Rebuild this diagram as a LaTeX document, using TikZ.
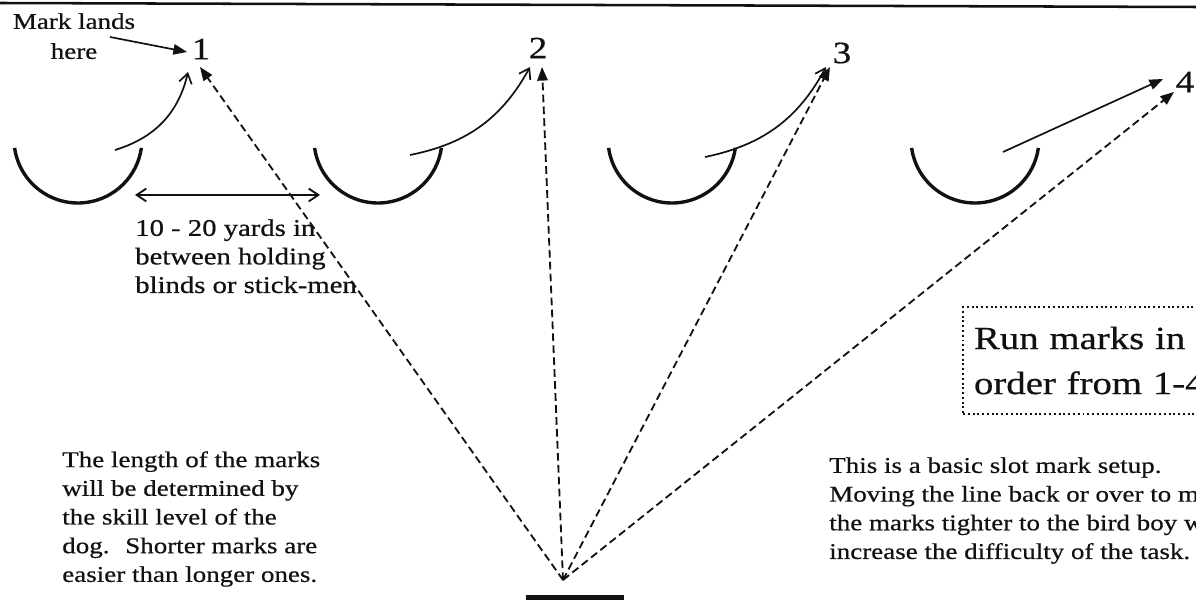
\documentclass[tikz,border=0pt]{standalone}
\usepackage{fontspec}
\setmainfont{Liberation Serif}[FakeStretch=1.2, FakeBold=0.6]
\usetikzlibrary{arrows.meta, positioning}
\definecolor{inkBlack}{HTML}{111111}
\tikzset{
  arrowD/.style={-{Triangle[length=3.4mm, width=2.6mm]}, inkBlack, line width=1.3pt,
                 dash pattern=on 5.5pt off 3pt},
  arrowS/.style={-{Straight Barb[length=2.4mm, width=3.2mm]}, inkBlack, line width=1.2pt},
  arrowF/.style={-{Triangle[length=3.4mm, width=2.6mm]}, inkBlack, line width=1.2pt},
  arrowW/.style={{Straight Barb[length=2.4mm, width=3.2mm]}-{Straight Barb[length=2.4mm, width=3.2mm]},
                 inkBlack, line width=1.3pt},
  blind/.style={inkBlack, line width=2.4pt},
  note/.style={inner sep=0pt, align=left, anchor=north west, text=inkBlack,
               font=\fontsize{16}{20.4}\selectfont},
  marknum/.style={inner sep=0pt, text=inkBlack, font=\fontsize{22}{26}\selectfont},
  runbox/.style={draw=inkBlack, dotted, line width=1.4pt, anchor=north west, align=left,
                 text width=6.25cm, inner xsep=0.275cm, minimum height=2.675cm,
                 text=inkBlack, font=\fontsize{23}{32}\selectfont},
}

\begin{document}
\begin{tikzpicture}[x=0.025cm, y=0.025cm]
  \useasboundingbox (0,0) rectangle (1196,599);
  \clip (0,0) rectangle (1196,599);
  \draw[inkBlack, line width=1.8pt] (0,596) -- (1196,592);

  % holding blinds
  \foreach \bx/\n in {78/1, 378/2, 672/3, 975/4}{
    \coordinate (b\n) at (\bx,460);
    \draw[blind] (b\n) ++(188:64) arc[start angle=188, end angle=352, radius=64];
  }

  % marks
  \node[marknum] (num1) at (201,550) {1};
  \node[marknum] (num2) at (538,551) {2};
  \node[marknum] (num3) at (842,546) {3};
  \node[marknum] (num4) at (1185,517) {4};
  \coordinate (land1) at (200,532);
  \coordinate (land2) at (542,532);
  \coordinate (land3) at (830,532);
  \coordinate (land4) at (1174,507);

  % throws from the blinds
  \coordinate (out1) at (115,449);  \coordinate (throw1) at (188,527);
  \coordinate (out2) at (410,444);  \coordinate (throw2) at (530,532);
  \coordinate (out3) at (705,442);  \coordinate (throw3) at (826,532);
  \coordinate (out4) at (1003,447); \coordinate (throw4) at (1163,520);
  \draw[arrowS] (out1) to[bend right=30] (throw1);
  \draw[arrowS] (out2) to[bend right=25] (throw2);
  \draw[arrowS] (out3) to[bend right=25] (throw3);
  \draw[arrowF] (out4) -- (throw4);

  % the line
  \node[fill=inkBlack, inner sep=0pt, minimum width=2.45cm, minimum height=0.2cm] (line) at (575,0) {};
  \coordinate (dog) at (563,19);
  \foreach \n in {1,...,4}
    \draw[arrowD] (dog) -- (land\n);

  % spacing
  \coordinate (gapL) at (135,404);
  \coordinate (gapR) at (320,404);
  \draw[arrowW] (gapL) -- (gapR);
  \node[note, font=\fontsize{17}{20.3}\selectfont] (gap) at (135,380)
    {10 - 20 yards in\\between holding\\blinds or stick-men};

  % labels
  \node[inner sep=0pt, align=center, anchor=north, text=inkBlack,
        font=\fontsize{16}{21.3}\selectfont] (lands) at (74,586) {Mark lands\\here};
  \coordinate (landsTail) at (110,562);
  \coordinate (landsTip) at (187,547);
  \draw[arrowF] (landsTail) -- (landsTip);

  \node[runbox] (order) at (962,293) {Run marks in\\order from 1-4};

  \node[note] (length) at (62,148)
    {The length of the marks\\will be determined by\\the skill level of the\\dog.~ Shorter marks are\\easier than longer ones.};
  \node[note] (setup) at (829,142)
    {This is a basic slot mark setup.\\Moving the line back or over to m\\the marks tighter to the bird boy w\\increase the difficulty of the task.};
\end{tikzpicture}
\end{document}
